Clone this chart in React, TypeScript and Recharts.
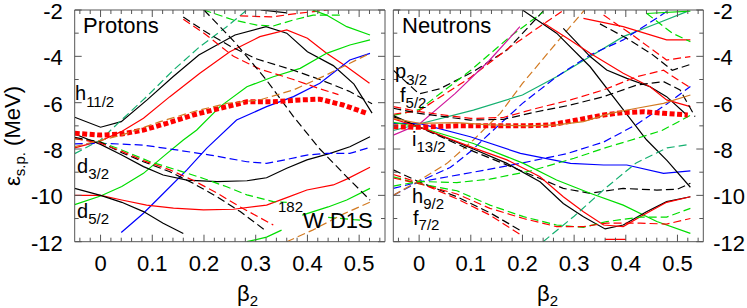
import React from 'react';
import { LineChart, Line, XAxis, YAxis } from 'recharts';

type Pt = [number, number];

// ===================== PROTON single-particle levels (beta2, MeV) =====================
const pBlackSolidUp: Pt[] = [[-0.05,-6.63],[0,-7.06],[0.04,-6.82],[0.09,-5.88],[0.14,-4.88],[0.19,-3.94],[0.26,-3.08],[0.32,-2.72],[0.36,-3.0],[0.4,-3.8],[0.45,-4.4],[0.49,-5.2],[0.525,-6.45]];
const pRedSolidUp: Pt[] = [[-0.05,-7.95],[0,-7.65],[0.04,-7.25],[0.083,-6.67],[0.134,-5.74],[0.192,-4.73],[0.25,-3.8],[0.308,-3.15],[0.36,-2.86],[0.4,-3.22],[0.437,-3.87],[0.476,-4.45],[0.52,-5.16]];
const pTealDashed: Pt[] = [[-0.05,-8.2],[0,-7.61],[0.037,-6.82],[0.089,-5.74],[0.141,-4.59],[0.192,-3.58],[0.244,-2.72],[0.283,-2.0]];
const pGreenDashedTop: Pt[] = [[0.199,-2.0],[0.257,-2.43],[0.302,-2.65],[0.334,-2.69],[0.373,-2.43],[0.411,-2.22],[0.47,-2.22]];
const pRedDashedTop: Pt[] = [[0.27,-2.25],[0.33,-2.3],[0.38,-2.15],[0.44,-2.0]];
const pBlackSolidTop: Pt[] = [[0.31,-2.0],[0.36,-2.12]];
const pGreenSolidTop: Pt[] = [[0.41,-2.0],[0.437,-2.22],[0.476,-2.72],[0.521,-3.08]];
const pGreenSolidRise: Pt[] = [[-0.05,-10.4],[0,-10.03],[0.041,-9.62],[0.083,-9.05],[0.121,-8.33],[0.16,-7.61],[0.186,-7.18],[0.231,-6.17],[0.283,-5.31],[0.334,-4.88],[0.386,-4.52],[0.437,-3.87],[0.482,-3.51],[0.521,-3.29]];
const pBlueSolid: Pt[] = [[0.04,-11.6],[0.083,-10.77],[0.115,-10.06],[0.167,-8.9],[0.205,-7.97],[0.263,-6.75],[0.321,-6.17],[0.373,-5.74],[0.424,-5.16],[0.482,-4.16],[0.521,-3.87]];
const pBlackSolidMid: Pt[] = [[-0.05,-7.35],[0,-7.8],[0.041,-8.26],[0.083,-8.76],[0.121,-9.12],[0.167,-9.34],[0.225,-9.41],[0.283,-9.37],[0.321,-9.24],[0.36,-8.83],[0.399,-8.47],[0.444,-8.19],[0.482,-7.9],[0.521,-7.47]];
const pBlueDashed: Pt[] = [[-0.05,-7.78],[0,-7.75],[0.083,-7.83],[0.147,-8.04],[0.212,-8.26],[0.283,-8.55],[0.321,-8.62],[0.36,-8.45],[0.399,-8.26],[0.437,-8.19],[0.482,-8.19],[0.521,-7.93]];
const pRedSolidLow: Pt[] = [[-0.05,-10.0],[0,-10.0],[0.041,-10.2],[0.089,-10.42],[0.141,-10.55],[0.199,-10.63],[0.257,-10.6],[0.321,-10.42],[0.36,-10.1],[0.399,-9.77],[0.45,-9.55],[0.476,-9.3],[0.521,-8.79]];
const pBlackSolidLow: Pt[] = [[-0.05,-9.7],[0,-10.0],[0.041,-10.3],[0.083,-10.7],[0.121,-11.2],[0.16,-11.65]];
const pBlackDashedDown: Pt[] = [[-0.05,-7.5],[0,-7.7],[0.041,-8.16],[0.083,-8.55],[0.134,-8.98],[0.179,-9.48],[0.225,-10.06],[0.27,-10.7],[0.318,-11.5]];
const pRedDashedDown: Pt[] = [[-0.05,-7.55],[0,-7.75],[0.041,-8.1],[0.083,-8.5],[0.134,-8.9],[0.179,-9.35],[0.225,-9.9],[0.27,-10.5],[0.334,-11.28]];
const pGreenDashedDown: Pt[] = [[-0.05,-7.55],[0,-7.7],[0.041,-8.04],[0.096,-8.55],[0.147,-8.9],[0.199,-9.27],[0.244,-9.63],[0.283,-9.98],[0.334,-10.27],[0.36,-10.3]];
const pGreenSolidLowR: Pt[] = [[0.39,-10.85],[0.44,-10.5],[0.476,-10.2],[0.521,-9.7]];
const pGreenDashedLowR: Pt[] = [[0.44,-10.95],[0.49,-11.05],[0.525,-11.1]];
const pGreenSolidBottom: Pt[] = [[0.283,-12.0],[0.321,-11.8],[0.35,-11.5]];
const pOrangeDashedBottom: Pt[] = [[0.36,-12.0],[0.41,-11.5],[0.47,-10.8],[0.525,-10.25]];
const pOrangeDashed: Pt[] = [[-0.05,-7.9],[0.041,-7.4],[0.115,-6.82],[0.179,-6.39],[0.244,-6.03],[0.308,-5.88],[0.373,-5.45],[0.437,-4.8],[0.482,-4.3],[0.521,-3.87]];
const pBlackDashedUp: Pt[] = [[0.16,-2.3],[0.2,-2.9],[0.25,-3.55],[0.3,-4.1],[0.373,-4.6],[0.424,-5.0],[0.48,-5.5],[0.525,-6.05]];
const pRedDashedUp: Pt[] = [[0.16,-2.4],[0.2,-3.0],[0.257,-4.0],[0.308,-4.55],[0.373,-5.0],[0.424,-5.4],[0.46,-5.65]];
const pBlackDashedSteep: Pt[] = [[0.2,-2.0],[0.26,-3.4],[0.32,-5.0],[0.373,-6.6],[0.424,-8.0],[0.476,-9.2],[0.521,-10.2]];
const pFermi: Pt[] = [[-0.05,-7.32],[0,-7.4],[0.041,-7.35],[0.083,-7.18],[0.128,-6.89],[0.179,-6.53],[0.231,-6.24],[0.283,-5.96],[0.334,-5.96],[0.386,-5.88],[0.424,-5.85],[0.469,-6.1],[0.515,-6.46]];

// ===================== NEUTRON single-particle levels (beta2, MeV) =====================
const nBlackDashedP32: Pt[] = [[-0.05,-4.6],[0,-5.62],[0.04,-5.4],[0.105,-4.66],[0.17,-3.73],[0.24,-2.05]];
const nMagentaSolid: Pt[] = [[-0.05,-7.4],[0,-6.93],[0.07,-5.6],[0.135,-4.2],[0.195,-2.72]];
const nGreenDashedUp: Pt[] = [[-0.05,-6.55],[0,-6.3],[0.1,-4.6],[0.176,-3.15],[0.241,-2.07]];
const nRedDashedUp: Pt[] = [[-0.05,-6.5],[0,-6.35],[0.1,-4.9],[0.176,-3.6],[0.28,-2.0]];
const nTealSolid: Pt[] = [[-0.05,-7.2],[0,-6.92],[0.105,-6.32],[0.2,-5.67],[0.266,-4.88],[0.331,-4.01],[0.395,-3.15],[0.46,-2.58],[0.518,-2.07]];
const nBlueDashedSteep: Pt[] = [[-0.05,-10.0],[0,-9.4],[0.06,-8.8],[0.1,-8.1],[0.137,-7.32],[0.2,-6.03],[0.266,-4.88],[0.331,-3.94],[0.395,-3.29],[0.479,-2.07]];
const nBlueDashedShallow: Pt[] = [[-0.05,-9.7],[0,-9.42],[0.105,-9.0],[0.2,-8.6],[0.286,-8.2],[0.357,-7.7],[0.42,-6.95],[0.48,-6.05],[0.525,-5.3]];
const nOrangeDashed: Pt[] = [[-0.05,-10.0],[0,-9.36],[0.054,-8.62],[0.105,-7.61],[0.157,-6.46],[0.2,-5.17],[0.254,-3.73],[0.32,-2.0]];
const nBlueSolid: Pt[] = [[-0.05,-6.89],[0,-6.89],[0.099,-7.47],[0.196,-8.19],[0.293,-8.62],[0.357,-8.69],[0.402,-8.69],[0.473,-9.05],[0.525,-8.94]];
const nBlackSolidSteep: Pt[] = [[0.2,-2.0],[0.266,-3.0],[0.331,-4.45],[0.395,-6.3],[0.44,-7.6],[0.48,-8.5],[0.525,-9.65]];
const nBlackSolid2: Pt[] = [[0.279,-2.79],[0.331,-4.01],[0.363,-4.59],[0.402,-4.95],[0.447,-5.31],[0.479,-5.74],[0.518,-6.53]];
const nRedSolidTop: Pt[] = [[0.318,-2.36],[0.395,-2.72],[0.479,-3.29],[0.525,-3.29]];
const nRedSolid2: Pt[] = [[0.24,-2.55],[0.292,-3.29],[0.331,-3.87],[0.395,-4.73],[0.447,-5.31],[0.479,-5.88],[0.525,-6.17]];
const nGreenSolidTop: Pt[] = [[0.44,-2.15],[0.525,-2.05]];
const nGreenDashedTopR: Pt[] = [[0.44,-2.14],[0.49,-3.0],[0.525,-3.37]];
const nRedDashedTopR: Pt[] = [[0.357,-2.22],[0.408,-3.0],[0.479,-4.16],[0.525,-4.01]];
const nBlackDashedTopR: Pt[] = [[0.35,-2.6],[0.4,-3.2],[0.45,-3.9],[0.49,-4.6],[0.525,-4.35]];
const nBlackDashedMid: Pt[] = [[-0.05,-6.24],[0,-6.46],[0.099,-6.75],[0.163,-6.72],[0.228,-6.39],[0.293,-6.1],[0.357,-5.74],[0.421,-5.24],[0.473,-5.09],[0.505,-5.45],[0.534,-6.6]];
const nRedDashedMid: Pt[] = [[-0.05,-6.17],[0,-6.39],[0.1,-6.68],[0.163,-6.64],[0.228,-6.24],[0.293,-5.88],[0.357,-5.45],[0.421,-4.88],[0.473,-4.6],[0.5,-5.0],[0.525,-5.35]];
const nOrangeSolid: Pt[] = [[-0.05,-6.68],[0,-6.89],[0.073,-6.86],[0.137,-6.96],[0.215,-7.0],[0.266,-6.96],[0.318,-6.82],[0.37,-6.46],[0.421,-6.24],[0.473,-6.03],[0.525,-5.67]];
const nBlackSolidI: Pt[] = [[-0.05,-6.55],[0,-7.05],[0.105,-8.0],[0.17,-8.62],[0.234,-9.41],[0.279,-10.35],[0.318,-10.92],[0.36,-11.45],[0.395,-11.28],[0.44,-10.71],[0.479,-10.27],[0.525,-10.06]];
const nRedSolidI: Pt[] = [[-0.05,-6.7],[0,-7.05],[0.105,-7.95],[0.17,-8.47],[0.234,-9.2],[0.279,-10.06],[0.318,-10.71],[0.357,-11.28],[0.395,-11.35],[0.434,-10.85],[0.479,-10.3],[0.525,-10.06]];
const nGreenSolidI: Pt[] = [[-0.05,-6.85],[0,-7.05],[0.105,-7.76],[0.202,-8.62],[0.266,-9.34],[0.331,-9.91],[0.395,-10.42],[0.46,-11.13],[0.525,-11.64]];
const nBlackDashedI: Pt[] = [[-0.05,-6.6],[0,-7.05],[0.105,-8.1],[0.17,-8.69],[0.234,-9.27],[0.279,-9.7],[0.331,-9.91],[0.395,-9.7],[0.46,-9.77],[0.499,-9.74],[0.525,-9.48]];
const nBlackDashedH: Pt[] = [[-0.05,-8.9],[0,-9.42],[0.073,-10.06],[0.137,-10.75],[0.195,-11.5],[0.2,-11.6]];
const nRedDashedH: Pt[] = [[-0.05,-9.1],[0,-9.45],[0.073,-10.15],[0.137,-10.85],[0.2,-11.75]];
const nGreenDashedF: Pt[] = [[-0.05,-9.2],[0,-9.5],[0.073,-9.8],[0.137,-10.42],[0.202,-10.92],[0.266,-11.28],[0.318,-11.38],[0.363,-11.13],[0.428,-10.94],[0.479,-10.94],[0.525,-10.56]];
const nRedDashedF: Pt[] = [[-0.05,-9.25],[0,-9.5],[0.073,-9.94],[0.137,-10.56],[0.202,-11.0],[0.266,-11.35],[0.318,-11.35],[0.363,-11.2],[0.428,-11.2],[0.479,-11.24],[0.525,-11.0]];
const nGreenDashedRise: Pt[] = [[-0.05,-9.6],[0,-9.4],[0.073,-9.45],[0.137,-9.3],[0.215,-8.95],[0.3,-8.4],[0.36,-7.95],[0.42,-7.55],[0.47,-7.2],[0.525,-6.55]];
const nTealDashed: Pt[] = [[0.24,-12],[0.3,-10.9],[0.36,-9.7],[0.42,-8.6],[0.48,-7.95],[0.525,-7.8]];
const nRedSolidBottom: Pt[] = [[0.36,-11.9],[0.4,-11.9]];
const nFermi: Pt[] = [[-0.05,-7.04],[0,-7.06],[0.073,-7.0],[0.137,-7.0],[0.202,-7.0],[0.254,-6.96],[0.305,-6.75],[0.357,-6.53],[0.395,-6.43],[0.434,-6.39],[0.473,-6.46],[0.52,-6.53]];

// ===================== axes =====================
const X_DOMAIN: [number, number] = [-0.05, 0.55];
const Y_DOMAIN: [number, number] = [-12, -2];
const X_TICKS = [-0.04,-0.02,0,0.02,0.04,0.06,0.08,0.1,0.12,0.14,0.16,0.18,0.2,0.22,0.24,0.26,0.28,0.3,0.32,0.34,0.36,0.38,0.4,0.42,0.44,0.46,0.48,0.5,0.52,0.54];
const X_MAJOR = [0, 0.1, 0.2, 0.3, 0.4, 0.5];
const X_LABELS = ['0', '0.1', '0.2', '0.3', '0.4', '0.5'];
const Y_TICKS = [-12,-11,-10,-9,-8,-7,-6,-5,-4,-3,-2];
const Y_MAJOR = [-12, -10, -8, -6, -4, -2];
const Y_LABELS = ['-12', '-10', '-8', '-6', '-4', '-2'];

// ===================== styles =====================
const C = {
  black: '#000000',
  red: '#ff0000',
  green: '#00dd00',
  blue: '#0000ff',
  orange: '#d27a22',
  teal: '#14b070',
  magenta: '#d0189c',
};
const FRAME = '#555555';
const FONT = '"Liberation Sans", Arial, Helvetica, sans-serif';

type Series = { data: Pt[]; color: string; dashed?: boolean; fermi?: boolean };

const protonSeries: Series[] = [
  { data: pBlackSolidUp, color: C.black },
  { data: pRedSolidUp, color: C.red },
  { data: pTealDashed, color: C.teal, dashed: true },
  { data: pGreenDashedTop, color: C.green, dashed: true },
  { data: pRedDashedTop, color: C.red, dashed: true },
  { data: pBlackSolidTop, color: C.black },
  { data: pGreenSolidTop, color: C.green },
  { data: pGreenSolidRise, color: C.green },
  { data: pBlueSolid, color: C.blue },
  { data: pBlackSolidMid, color: C.black },
  { data: pBlueDashed, color: C.blue, dashed: true },
  { data: pRedSolidLow, color: C.red },
  { data: pBlackSolidLow, color: C.black },
  { data: pGreenDashedDown, color: C.green, dashed: true },
  { data: pBlackDashedDown, color: C.black, dashed: true },
  { data: pRedDashedDown, color: C.red, dashed: true },
  { data: pGreenSolidLowR, color: C.green },
  { data: pGreenDashedLowR, color: C.green, dashed: true },
  { data: pGreenSolidBottom, color: C.green },
  { data: pOrangeDashedBottom, color: C.orange, dashed: true },
  { data: pBlackDashedUp, color: C.black, dashed: true },
  { data: pRedDashedUp, color: C.red, dashed: true },
  { data: pBlackDashedSteep, color: C.black, dashed: true },
  { data: pFermi, color: C.red, fermi: true },
  { data: pOrangeDashed, color: C.orange, dashed: true },
];

const neutronSeries: Series[] = [
  { data: nBlackDashedP32, color: C.black, dashed: true },
  { data: nGreenDashedUp, color: C.green, dashed: true },
  { data: nRedDashedUp, color: C.red, dashed: true },
  { data: nMagentaSolid, color: C.magenta },
  { data: nTealSolid, color: C.teal },
  { data: nBlueDashedSteep, color: C.blue, dashed: true },
  { data: nBlueDashedShallow, color: C.blue, dashed: true },
  { data: nOrangeDashed, color: C.orange, dashed: true },
  { data: nBlueSolid, color: C.blue },
  { data: nBlackSolidSteep, color: C.black },
  { data: nBlackSolid2, color: C.black },
  { data: nRedSolidTop, color: C.red },
  { data: nRedSolid2, color: C.red },
  { data: nGreenSolidTop, color: C.green },
  { data: nGreenDashedTopR, color: C.green, dashed: true },
  { data: nRedDashedTopR, color: C.red, dashed: true },
  { data: nBlackDashedTopR, color: C.black, dashed: true },
  { data: nBlackDashedMid, color: C.black, dashed: true },
  { data: nRedDashedMid, color: C.red, dashed: true },
  { data: nBlackDashedI, color: C.black, dashed: true },
  { data: nGreenSolidI, color: C.green },
  { data: nBlackSolidI, color: C.black },
  { data: nRedSolidI, color: C.red },
  { data: nBlackDashedH, color: C.black, dashed: true },
  { data: nRedDashedH, color: C.red, dashed: true },
  { data: nGreenDashedF, color: C.green, dashed: true },
  { data: nRedDashedF, color: C.red, dashed: true },
  { data: nGreenDashedRise, color: C.green, dashed: true },
  { data: nTealDashed, color: C.teal, dashed: true },
  { data: nRedSolidBottom, color: C.red },
  { data: nFermi, color: C.red, fermi: true },
  { data: nOrangeSolid, color: C.orange },
];

// ===================== tick renderers =====================
const near = (a: number, b: number) => Math.abs(a - b) < 1e-6;
const xMajorIndex = (v: number) => X_MAJOR.findIndex((m) => near(m, v));
const yMajorIndex = (v: number) => Y_MAJOR.findIndex((m) => near(m, v));

const BottomTick = (p: any) => {
  const { x, y, payload } = p;
  const i = xMajorIndex(payload.value);
  return (
    <g>
      <line x1={x} x2={x} y1={y} y2={y - (i >= 0 ? 7 : 4)} stroke={FRAME} strokeWidth={1} />
      {i >= 0 && (
        <text x={x} y={y + 29} textAnchor="middle" fontSize={22} fontFamily={FONT} fill="#000">
          {X_LABELS[i]}
        </text>
      )}
    </g>
  );
};

const TopTick = (p: any) => {
  const { x, y, payload } = p;
  const i = xMajorIndex(payload.value);
  return <line x1={x} x2={x} y1={y} y2={y + (i >= 0 ? 7 : 4)} stroke={FRAME} strokeWidth={1} />;
};

const makeLeftTick = (labels: boolean) => (p: any) => {
  const { x, y, payload } = p;
  const i = yMajorIndex(payload.value);
  return (
    <g>
      <line x1={x} x2={x + (i >= 0 ? 7 : 4)} y1={y} y2={y} stroke={FRAME} strokeWidth={1} />
      {labels && i >= 0 && (
        <text x={x - 12} y={y + 9} textAnchor="end" fontSize={22} fontFamily={FONT} fill="#000">
          {Y_LABELS[i]}
        </text>
      )}
    </g>
  );
};

const makeRightTick = (labels: boolean) => (p: any) => {
  const { x, y, payload } = p;
  const i = yMajorIndex(payload.value);
  return (
    <g>
      <line x1={x} x2={x - (i >= 0 ? 7 : 4)} y1={y} y2={y} stroke={FRAME} strokeWidth={1} />
      {labels && i >= 0 && (
        <text x={x + 10} y={y + 9} textAnchor="start" fontSize={22} fontFamily={FONT} fill="#000">
          {Y_LABELS[i]}
        </text>
      )}
    </g>
  );
};

type PanelProps = {
  series: Series[];
  width: number;
  margin: { top: number; right: number; bottom: number; left: number };
  leftLabels: boolean;
  rightLabels: boolean;
};

function Panel({ series, width, margin, leftLabels, rightLabels }: PanelProps) {
  return (
    <LineChart width={width} height={308} margin={margin}>
      <XAxis
        xAxisId="b"
        type="number"
        dataKey="x"
        domain={X_DOMAIN}
        allowDataOverflow
        ticks={X_TICKS}
        interval={0}
        height={1}
        tickSize={0}
        tickMargin={0}
        tickLine={false}
        axisLine={{ stroke: FRAME, strokeWidth: 1 }}
        tick={BottomTick}
      />
      <XAxis
        xAxisId="t"
        orientation="top"
        type="number"
        dataKey="x"
        domain={X_DOMAIN}
        allowDataOverflow
        ticks={X_TICKS}
        interval={0}
        height={1}
        tickSize={0}
        tickMargin={0}
        tickLine={false}
        axisLine={{ stroke: FRAME, strokeWidth: 1 }}
        tick={TopTick}
      />
      <YAxis
        yAxisId="l"
        type="number"
        domain={Y_DOMAIN}
        allowDataOverflow
        ticks={Y_TICKS}
        interval={0}
        width={1}
        tickSize={0}
        tickMargin={0}
        tickLine={false}
        axisLine={{ stroke: FRAME, strokeWidth: 1 }}
        tick={makeLeftTick(leftLabels)}
      />
      <YAxis
        yAxisId="r"
        orientation="right"
        type="number"
        domain={Y_DOMAIN}
        allowDataOverflow
        ticks={Y_TICKS}
        interval={0}
        width={1}
        tickSize={0}
        tickMargin={0}
        tickLine={false}
        axisLine={{ stroke: FRAME, strokeWidth: 1 }}
        tick={makeRightTick(rightLabels)}
      />
      {series.map((s, k) => (
        <Line
          key={k}
          xAxisId="b"
          yAxisId="l"
          data={s.data.map(([x, y]) => ({ x, y }))}
          dataKey="y"
          type="linear"
          stroke={s.color}
          strokeWidth={s.fermi ? 5 : 1.2}
          strokeDasharray={s.fermi ? '5 2.5' : s.dashed ? '8 4' : undefined}
          dot={false}
          activeDot={false}
          isAnimationActive={false}
        />
      ))}
    </LineChart>
  );
}

const Level = ({ x, y, main, sub, dy }: { x: number; y: number; main: string; sub: string; dy: number }) => (
  <text x={x} y={y} fontSize={20} fontFamily={FONT} fill="#000">
    {main}
    <tspan fontSize={15} dy={dy}>{sub}</tspan>
  </text>
);

export default function App() {
  return (
    <div style={{ position: 'absolute', left: 0, top: 0, width: 747, height: 308, background: '#fff', overflow: 'hidden' }}>
      <div style={{ position: 'absolute', left: 0, top: 0 }}>
        <Panel
          series={protonSeries}
          width={390}
          margin={{ top: 9, right: 4, bottom: 65.3, left: 73.7 }}
          leftLabels
          rightLabels={false}
        />
      </div>
      <div style={{ position: 'absolute', left: 390, top: 0 }}>
        <Panel
          series={neutronSeries}
          width={357}
          margin={{ top: 9, right: 42.7, bottom: 65.3, left: 2.3 }}
          leftLabels={false}
          rightLabels
        />
      </div>
      <svg width={747} height={308} style={{ position: 'absolute', left: 0, top: 0, pointerEvents: 'none' }}>
        <text transform="translate(20,136) rotate(-90)" textAnchor="middle" fontSize={22} fontFamily={FONT} fill="#000">
          ε<tspan fontSize={15} dy={5}>s.p.</tspan>
          <tspan dy={-5}> (MeV)</tspan>
        </text>
        <text x={83} y={33} fontSize={22} fontFamily={FONT} fill="#000">Protons</text>
        <text x={402} y={33} fontSize={22} fontFamily={FONT} fill="#000">Neutrons</text>
        <Level x={75} y={100} main="h" sub="11/2" dy={7} />
        <Level x={77} y={173} main="d" sub="3/2" dy={6} />
        <Level x={77} y={218} main="d" sub="5/2" dy={6} />
        <Level x={395} y={78} main="p" sub="3/2" dy={7} />
        <Level x={400} y={102} main="f" sub="5/2" dy={6} />
        <Level x={412} y={146} main="i" sub="13/2" dy={6} />
        <Level x={412} y={203} main="h" sub="9/2" dy={6} />
        <Level x={413} y={225} main="f" sub="7/2" dy={5} />
        <text x={278} y={228} fontFamily={FONT} fill="#000">
          <tspan fontSize={15} dy={-16}>182</tspan>
          <tspan fontSize={22} dy={16}>W D1S</tspan>
        </text>
        <text x={237} y={301} fontSize={22} fontFamily={FONT} fill="#000">
          β<tspan fontSize={15} dy={5}>2</tspan>
        </text>
        <text x={537} y={301} fontSize={22} fontFamily={FONT} fill="#000">
          β<tspan fontSize={15} dy={5}>2</tspan>
        </text>
      </svg>
    </div>
  );
}
